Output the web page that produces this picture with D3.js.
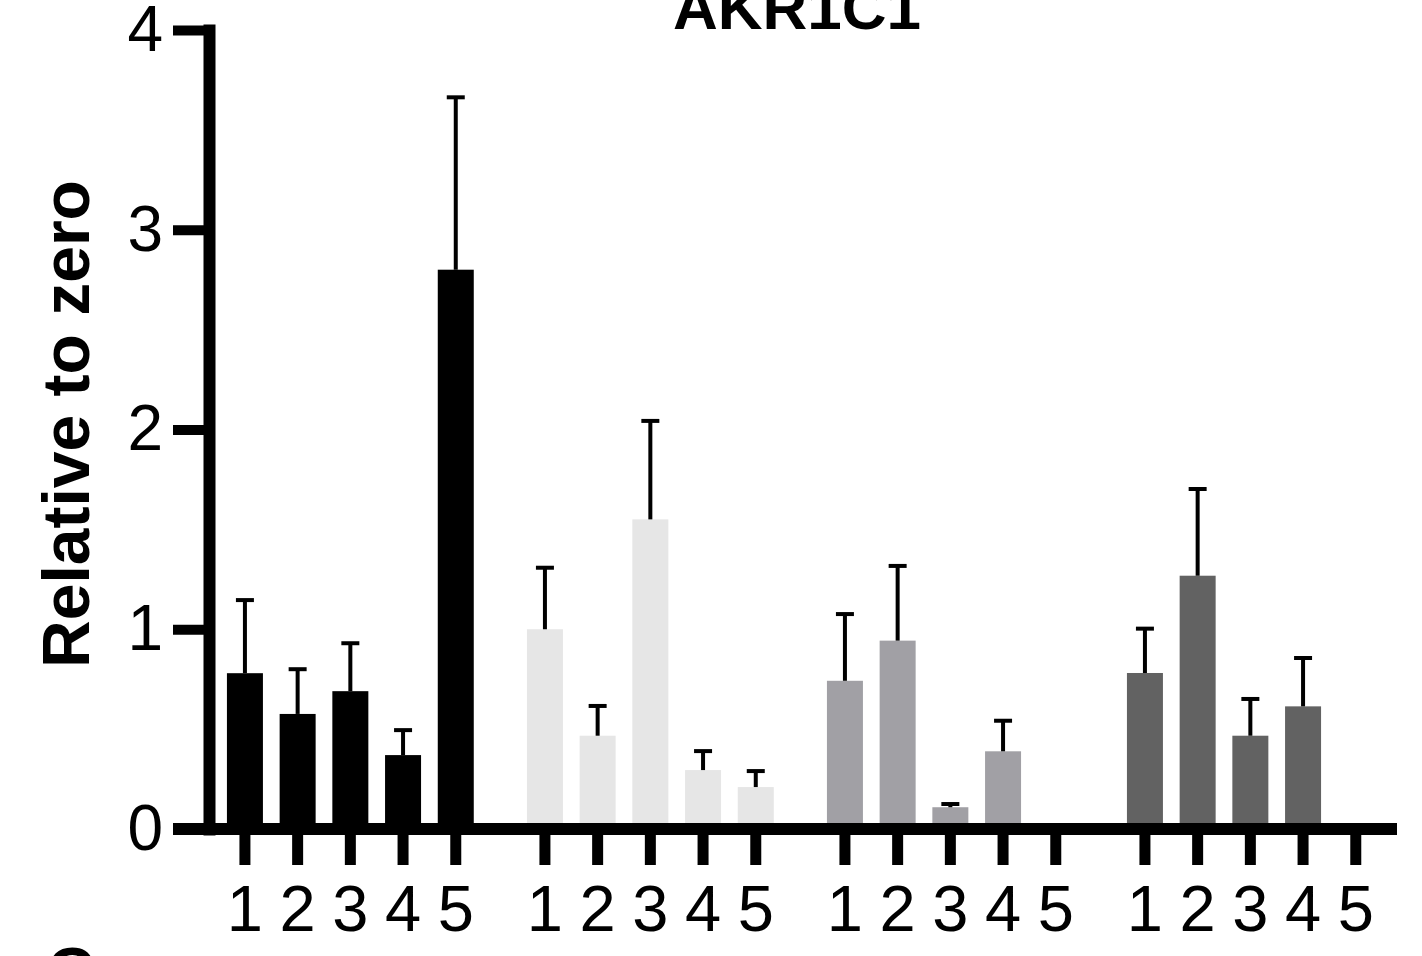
<!DOCTYPE html>
<html lang="en">
  <head>
    <meta charset="UTF-8" />
    <style>
      body {
        margin: 0;
        background: #fff;
      }
      svg {
        font-family: "Liberation Sans", Arial, sans-serif;
        display: block;
      }
    </style>
    <script src="https://d3js.org/d3.v7.min.js"></script>
    <title>AKR1C1</title>
  </head>
  <body>
    <script>
      // data (bar = mean, whisker = upper error)
      const groups = ["G1", "G2", "G3", "G4"];
      const conditions = ["1", "2", "3", "4", "5"];
      const yTicks = [0, 1, 2, 3, 4];

      const group1Mean = [0.78, 0.576, 0.69, 0.37, 2.8];
      const group1Err = [0.366, 0.224, 0.24, 0.125, 0.863];
      const group2Mean = [1.0, 0.467, 1.55, 0.295, 0.21];
      const group2Err = [0.308, 0.149, 0.493, 0.095, 0.08];
      const group3Mean = [0.742, 0.943, 0.109, 0.389, 0];
      const group3Err = [0.334, 0.374, 0.016, 0.153, 0];
      const group4Mean = [0.781, 1.268, 0.467, 0.614, 0];
      const group4Err = [0.222, 0.434, 0.184, 0.242, 0];

      const colors = ["#000000", "#e6e6e6", "#a1a0a5", "#626262"];

      const means = [group1Mean, group2Mean, group3Mean, group4Mean];
      const errs = [group1Err, group2Err, group3Err, group4Err];
      const data = [];
      groups.forEach((g, gi) => {
        conditions.forEach((c, ci) => {
          data.push({ group: g, cond: c, mean: means[gi][ci], err: errs[gi][ci], color: colors[gi] });
        });
      });

      const width = 1422,
        height = 956;

      const svg = d3
        .select("body")
        .append("svg")
        .attr("width", width)
        .attr("height", height);

      const y = d3.scaleLinear().domain([0, 4]).range([829, 30]);

      const xGroup = d3
        .scaleBand()
        .domain(groups)
        .range([218.6, 1382.1])
        .paddingInner(0.1217)
        .paddingOuter(0);

      const xCond = d3
        .scaleBand()
        .domain(conditions)
        .range([0, xGroup.bandwidth()])
        .paddingInner(0.317)
        .paddingOuter(0.158);

      const cx = (d) => xGroup(d.group) + xCond(d.cond) + xCond.bandwidth() / 2;

      // bars
      svg
        .selectAll("rect.bar")
        .data(data.filter((d) => d.mean > 0))
        .enter()
        .append("rect")
        .attr("class", "bar")
        .attr("x", (d) => xGroup(d.group) + xCond(d.cond))
        .attr("y", (d) => y(d.mean))
        .attr("width", xCond.bandwidth())
        .attr("height", (d) => y(0) - y(d.mean))
        .style("fill", (d) => d.color);

      // error bars (upper only)
      const eb = svg
        .selectAll("g.err")
        .data(data.filter((d) => d.mean > 0))
        .enter()
        .append("g")
        .attr("class", "err")
        .style("stroke", "#000")
        .style("stroke-width", 4);
      eb.append("line")
        .attr("x1", cx)
        .attr("x2", cx)
        .attr("y1", (d) => y(d.mean))
        .attr("y2", (d) => y(d.mean + d.err));
      eb.append("line")
        .attr("x1", (d) => cx(d) - 9)
        .attr("x2", (d) => cx(d) + 9)
        .attr("y1", (d) => y(d.mean + d.err))
        .attr("y2", (d) => y(d.mean + d.err));

      // x axis line
      svg
        .append("line")
        .attr("x1", 173)
        .attr("x2", 1397)
        .attr("y1", y(0))
        .attr("y2", y(0))
        .style("stroke", "#000")
        .style("stroke-width", 12);

      // x ticks + labels, one axis per group
      groups.forEach((g) => {
        const ax = svg
          .append("g")
          .attr("transform", "translate(" + xGroup(g) + "," + y(0) + ")")
          .call(d3.axisBottom(xCond).tickSize(36).tickPadding(20));
        ax.select(".domain").remove();
        ax.selectAll(".tick line").style("stroke", "#000").style("stroke-width", 11);
        ax.selectAll(".tick text")
          .style("font-size", "65px")
          .style("font-family", '"Liberation Sans", Arial, sans-serif')
          .style("fill", "#000");
      });

      // y axis
      const yAx = svg
        .append("g")
        .attr("transform", "translate(209,0)")
        .call(d3.axisLeft(y).tickValues(yTicks).tickSize(36).tickSizeOuter(0).tickPadding(10).tickFormat(d3.format("d")));
      yAx.select(".domain").style("stroke", "#000").style("stroke-width", 12).style("stroke-linecap", "square");
      yAx.selectAll(".tick line").style("stroke", "#000").style("stroke-width", 10);
      yAx.selectAll(".tick text")
        .style("font-size", "64px")
        .style("font-family", '"Liberation Sans", Arial, sans-serif')
        .style("fill", "#000");

      // y label
      svg
        .append("text")
        .attr("transform", "rotate(-90)")
        .attr("x", -424)
        .attr("y", 89)
        .attr("text-anchor", "middle")
        .style("font-size", "66px")
        .style("font-weight", "bold")
        .text("Relative to zero");

      // title (cut off at top in the original)
      svg
        .append("text")
        .attr("x", 797)
        .attr("y", 29)
        .attr("text-anchor", "middle")
        .style("font-size", "62px")
        .style("font-weight", "bold")
        .text("AKR1C1");

      // next panel letter peeking in at the bottom
      svg
        .append("text")
        .attr("x", 47)
        .attr("y", 994)
        .style("font-size", "66px")
        .style("font-weight", "bold")
        .text("C");
    </script>
  </body>
</html>
